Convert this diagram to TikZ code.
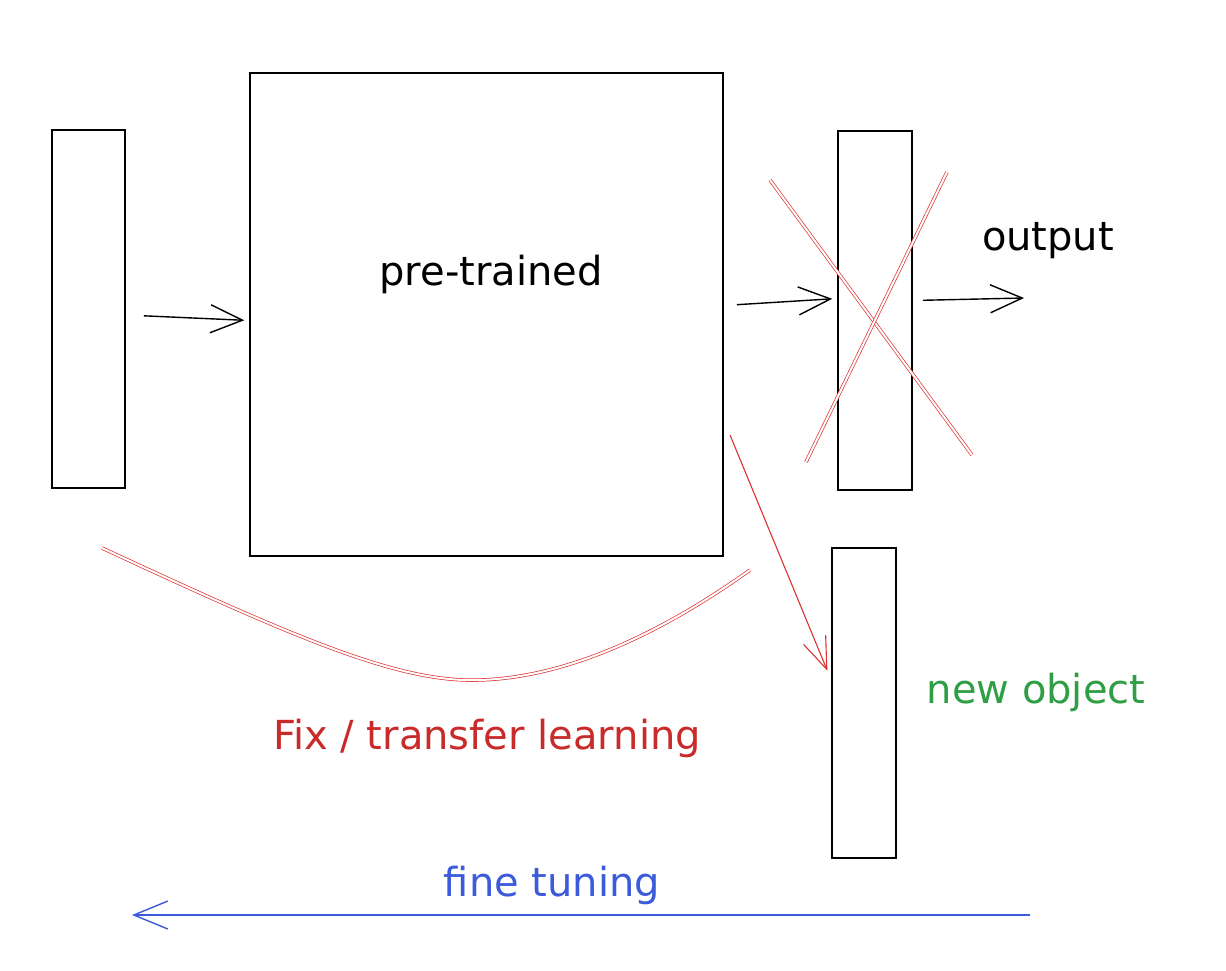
\documentclass[tikz,border=0pt]{standalone}
\usepackage{fontspec}
\setmainfont{DejaVu Sans}
\usetikzlibrary{arrows.meta}
\definecolor{exred}{HTML}{C92A2A}
\definecolor{exredl}{HTML}{E03131}
\definecolor{exgreen}{HTML}{2F9E44}
\definecolor{exblue}{HTML}{3B5BDB}
\tikzset{
  bar/.style={draw=black, line width=1.6pt, minimum width=#1, inner sep=0pt},
  lbl/.style={font=\fontsize{40}{44}\selectfont, inner sep=0pt},
  arr/.style={draw=black, line width=1.4pt, -{Straight Barb[length=32pt,width=28pt,line width=1.4pt]}},
  redarr/.style={draw=exredl, line width=1.1pt, -{Straight Barb[length=32pt,width=24pt,line width=1.1pt]}},
  redline/.style={draw=exredl, line width=0.7pt, double=white, double distance=2pt},
  bluearr/.style={draw=exblue, line width=1.5pt, -{Straight Barb[length=34pt,width=28pt,line width=1.4pt]}}
}
\begin{document}
\begin{tikzpicture}[x=1pt,y=-1pt]
\useasboundingbox (0,0) rectangle (1226,970);
% bars and box
\node[bar=73pt, minimum height=358pt] (inbar) at (88.5,309) {};
\node[bar=473pt, minimum height=483pt] (box) at (486.5,314.5) {};
\node[bar=74pt, minimum height=359pt] (outbar) at (875,310.5) {};
\node[bar=64pt, minimum height=310pt] (newbar) at (864,703) {};
% labels
\node[lbl] (pt) at (491,274) {pre-trained};
\node[lbl] (out) at (1048,241) {output};
\node[lbl, text=exred] (fix) at (487,738) {Fix / transfer learning};
\node[lbl, text=exgreen] (newobj) at (1036,692) {new object};
\node[lbl, text=exblue] (ft) at (552,885) {fine tuning};
% black arrows
\draw[arr, shorten <=18pt, shorten >=5pt] ([yshift=-6pt]inbar.east) -- ([yshift=-6pt]box.west);
\draw[arr, shorten <=13pt, shorten >=5pt] ([yshift=9pt]box.east) -- ([yshift=12pt]outbar.west);
\coordinate (outend) at (1024,298);
\draw[arr, shorten <=10pt] ([yshift=10pt]outbar.east) -- (outend);
% red cross
\coordinate (xa1) at (770,180);
\coordinate (xa2) at (972,455);
\coordinate (xb1) at (806,462);
\coordinate (xb2) at (947,172);
\draw[redline] (xa1) -- (xa2);
\draw[redline] (xb1) -- (xb2);
% red arrow to new bar
\coordinate (rs) at (730,435);
\draw[redarr, shorten >=10pt] (rs) -- ([yshift=23pt]newbar.west);
% red curve
\coordinate (c1) at (102,548);
\coordinate (c2) at (480,680);
\coordinate (c3) at (750,570);
\draw[redline] (c1) .. controls (300,640) and (400,683) .. (c2) .. controls (580,677) and (680,620) .. (c3);
% blue arrow
\coordinate (fr) at (1030,915);
\coordinate (fl) at (132,915);
\draw[bluearr] (fr) -- (fl);
\end{tikzpicture}
\end{document}
